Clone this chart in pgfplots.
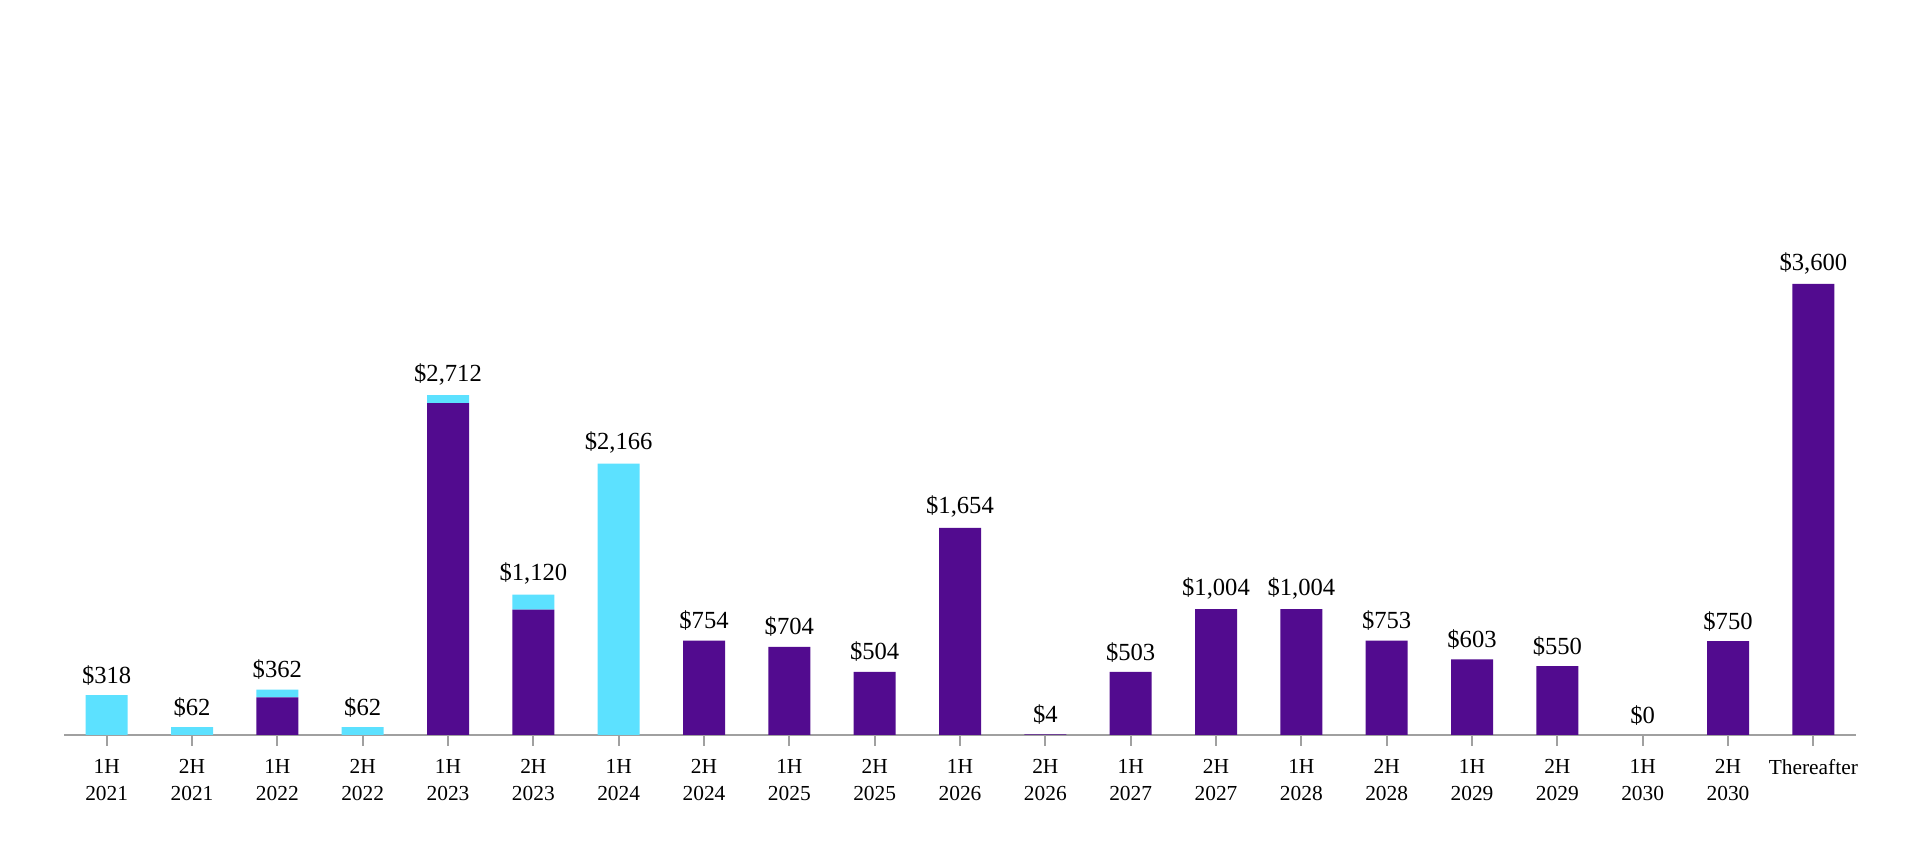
\documentclass[border=0pt]{standalone}
\usepackage{fontspec}
\setmainfont{Liberation Serif}
\usepackage{pgfplots}
\pgfplotsset{compat=1.18}
\definecolor{purp}{HTML}{520B8F}
\definecolor{cyanb}{HTML}{5CE1FF}
\definecolor{axgray}{HTML}{A0A0A0}
\pgfplotsset{commonax/.style={
  at={(32pt,65.5pt)}, anchor=south west,
  scale only axis, width=896pt, height=367.5pt,
  xmin=-0.5, xmax=20.5, ymin=0, ymax=5867,
  clip=false}}
\begin{document}
\begin{tikzpicture}
\path[use as bounding box] (0,0) rectangle (960pt,433pt);
\begin{axis}[
  commonax,
  ybar stacked, bar width=21pt,
  axis y line=none, axis x line*=bottom,
  x axis line style={axgray, line width=1pt, -},
  xtick={0,...,20},
  xticklabels={{1H\\2021},{2H\\2021},{1H\\2022},{2H\\2022},{1H\\2023},{2H\\2023},{1H\\2024},{2H\\2024},{1H\\2025},{2H\\2025},{1H\\2026},{2H\\2026},{1H\\2027},{2H\\2027},{1H\\2028},{2H\\2028},{1H\\2029},{2H\\2029},{1H\\2030},{2H\\2030},{Thereafter}},
  tick align=outside, major tick length=5.5pt,
  xtick style={axgray, line width=1pt},
  xticklabel style={align=center, anchor=north, font=\fontsize{10.7}{13.5}\selectfont, yshift=-3pt},
]
\addplot[fill=purp, draw=none] table {
x y
0 0
1 0
2 300
3 0
4 2650
5 1000
6 0
7 754
8 704
9 504
10 1654
11 4
12 503
13 1004
14 1004
15 753
16 603
17 550
18 0
19 750
20 3600
};
\addplot[fill=cyanb, draw=none] table {
x y
0 318
1 62
2 62
3 62
4 62
5 120
6 2166
7 0
8 0
9 0
10 0
11 0
12 0
13 0
14 0
15 0
16 0
17 0
18 0
19 0
20 0
};
\end{axis}
\begin{axis}[
  commonax,
  axis lines=none,
]
\addplot[draw=none, mark=none, nodes near coords, point meta=explicit symbolic,
  every node near coord/.append style={font=\fontsize{12.3}{14}\selectfont, text=black, anchor=south, yshift=1.5pt}]
  table[meta=label] {
x y label
0 318 \$318
1 62 \$62
2 362 \$362
3 62 \$62
4 2712 \$2,712
5 1120 \$1,120
6 2166 \$2,166
7 754 \$754
8 704 \$704
9 504 \$504
10 1654 \$1,654
11 4 \$4
12 503 \$503
13 1004 \$1,004
14 1004 \$1,004
15 753 \$753
16 603 \$603
17 550 \$550
18 0 \$0
19 750 \$750
20 3600 \$3,600
};
\end{axis}
\end{tikzpicture}
\end{document}
